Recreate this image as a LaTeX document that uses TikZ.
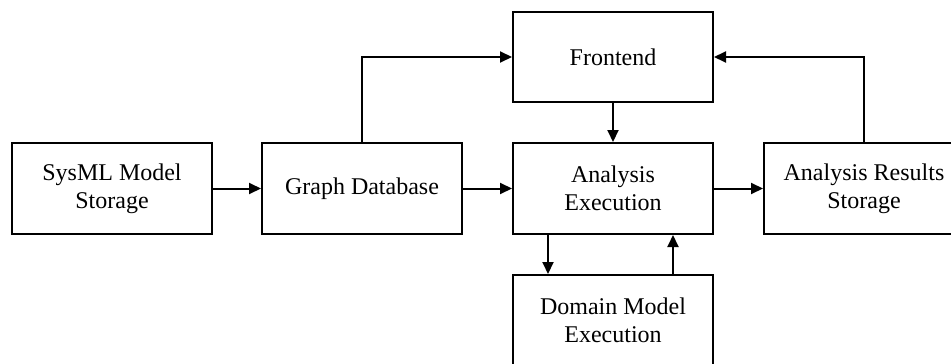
\documentclass[tikz,border=0pt]{standalone}
\usepackage{fontspec}
\setmainfont{Liberation Serif}
\usetikzlibrary{positioning,arrows.meta}

\begin{document}
\begin{tikzpicture}
          [ x=1pt, y=1pt,
            block/.style={
              rectangle,
              draw,
              line width=2pt,
              minimum width=200pt,
              minimum height=91pt,
              inner sep=0pt,
              align=center,
              font=\fontsize{24}{28}\selectfont},
            link/.style={
              draw,
              line width=2pt,
              -{Triangle[length=12pt,width=11pt]},
            },
            node distance=39pt and 49pt,
          ]

          \useasboundingbox (0,0) rectangle (951,-364);
          \clip (0,0) rectangle (951,-364);

          \node (sysml) [block] at (112,-188.5) {SysML Model\\Storage};
          \node (graphdb) [block, right=48pt of sysml] {Graph Database};
          \node (analysis) [block, right=of graphdb] {Analysis\\Execution};
          \node (results) [block, right=of analysis] {Analysis Results\\Storage};
          \node (frontend) [block, above=of analysis, minimum height=90pt] {Frontend};
          \node (domain) [block, below=of analysis] {Domain Model\\Execution};

          \draw[link] (sysml) -- (graphdb);
          \draw[link] (graphdb) -- (analysis);
          \draw[link] (analysis) -- (results);
          \draw[link] (graphdb.north) |- (frontend.west);
          \draw[link] (results.north) |- (frontend.east);
          \draw[link] (frontend) -- (analysis);
          \draw[link] ([xshift=-65pt]analysis.south) -- ([xshift=-65pt]domain.north);
          \draw[link] ([xshift=60pt]domain.north) -- ([xshift=60pt]analysis.south);

        \end{tikzpicture}
\end{document}
